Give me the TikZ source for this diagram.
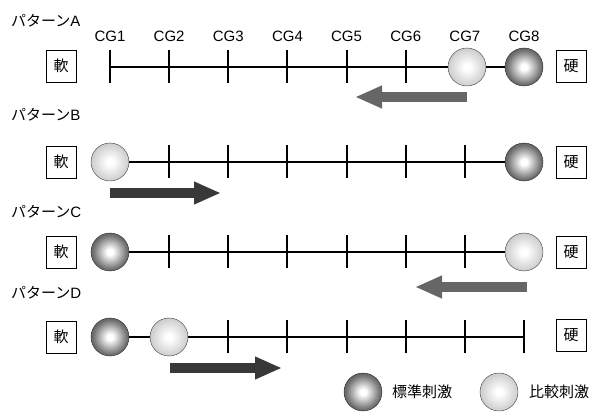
\documentclass[tikz,border=0pt]{standalone}
\usepackage{fontspec}
\setmainfont{Liberation Sans}
\newfontfamily\jp{Noto Sans CJK JP}
\usetikzlibrary{arrows.meta}
\pgfdeclareradialshading{darkball}{\pgfpoint{0bp}{0bp}}{color(0bp)=(white); color(4bp)=(white); color(22bp)=(black!55); color(40bp)=(black!85); color(50bp)=(black!95)}
\pgfdeclareradialshading{lightball}{\pgfpoint{0bp}{0bp}}{color(0bp)=(white); color(4bp)=(white); color(25bp)=(black!20); color(50bp)=(black!45)}
\tikzset{
  hardness/.style={draw, thin, minimum width=30pt, minimum height=32pt, inner sep=0pt, font=\jp\fontsize{15}{17}\selectfont},
  stdball/.style={circle, draw=black!85, minimum size=38pt, inner sep=0pt, shading=darkball},
  cmpball/.style={circle, draw=black!75, minimum size=38pt, inner sep=0pt, shading=lightball},
  scaleline/.style={line width=2.5pt},
  cgtick/.style={line width=2pt},
  movearrow/.style={line width=10pt, -{Triangle[length=27pt,width=21pt]}},
  pattern/.style={anchor=west, inner sep=0pt}
}
\begin{document}
\begin{tikzpicture}[x=1pt, y=-1pt, font=\fontsize{15}{17}\selectfont]
  \useasboundingbox (0,0) rectangle (590,412);
  % CG labels on top
  \foreach \i in {1,...,8}
    \node (cg\i) at ({110+59.14*(\i-1)},36) {CG\i};

  % pattern A
  \node[pattern] (patA) at (11,21) {{\jp パターン}A};
  \node[hardness] (softA) at (61,66) {軟};
  \node[hardness] (hardA) at (571,66) {硬};
  \coordinate (A1) at (110,67);
  \coordinate (A8) at (524,67);
  \draw[scaleline] (A1) -- (A8);
  \foreach \i in {1,...,6}
    \draw[cgtick] ({110+59.14*(\i-1)},50) -- +(0,33);
  \node[cmpball] (cmpA) at (467,67) {};
  \node[stdball] (stdA) at (A8) {};
  \coordinate (arrAs) at (467,97);
  \coordinate (arrAe) at (355,97);
  \draw[movearrow, black!60] (arrAs) -- (arrAe);

  % pattern B
  \node[pattern] (patB) at (11,115) {{\jp パターン}B};
  \node[hardness] (softB) at (61,162) {軟};
  \node[hardness] (hardB) at (571,162) {硬};
  \coordinate (B1) at (110,162);
  \coordinate (B8) at (524,162);
  \draw[scaleline] (B1) -- (B8);
  \foreach \i in {2,...,7}
    \draw[cgtick] ({110+59.14*(\i-1)},145) -- +(0,33);
  \node[cmpball] (cmpB) at (B1) {};
  \node[stdball] (stdB) at (B8) {};
  \coordinate (arrBs) at (110,193);
  \coordinate (arrBe) at (221,193);
  \draw[movearrow, black!78] (arrBs) -- (arrBe);

  % pattern C
  \node[pattern] (patC) at (11,212) {{\jp パターン}C};
  \node[hardness] (softC) at (61,252) {軟};
  \node[hardness] (hardC) at (571,252) {硬};
  \coordinate (C1) at (110,252);
  \coordinate (C8) at (524,252);
  \draw[scaleline] (C1) -- (C8);
  \foreach \i in {2,...,7}
    \draw[cgtick] ({110+59.14*(\i-1)},235) -- +(0,33);
  \node[stdball] (stdC) at (C1) {};
  \node[cmpball] (cmpC) at (C8) {};
  \coordinate (arrCs) at (527,287);
  \coordinate (arrCe) at (415,287);
  \draw[movearrow, black!60] (arrCs) -- (arrCe);

  % pattern D
  \node[pattern] (patD) at (11,293) {{\jp パターン}D};
  \node[hardness] (softD) at (61,337) {軟};
  \node[hardness] (hardD) at (571,335) {硬};
  \coordinate (D1) at (110,337);
  \coordinate (D8) at (524,337);
  \draw[scaleline] (D1) -- (D8);
  \foreach \i in {3,...,8}
    \draw[cgtick] ({110+59.14*(\i-1)},320) -- +(0,33);
  \node[stdball] (stdD) at (D1) {};
  \node[cmpball] (cmpD) at (169,337) {};
  \coordinate (arrDs) at (170,368);
  \coordinate (arrDe) at (282,368);
  \draw[movearrow, black!78] (arrDs) -- (arrDe);

  % legend
  \node[stdball] (keystd) at (363,392) {};
  \node[anchor=west, inner sep=0pt, font=\jp\fontsize{15}{17}\selectfont] (keystdtxt) at (392,392) {標準刺激};
  \node[cmpball] (keycmp) at (499,392) {};
  \node[anchor=west, inner sep=0pt, font=\jp\fontsize{15}{17}\selectfont] (keycmptxt) at (529,392) {比較刺激};
\end{tikzpicture}
\end{document}
